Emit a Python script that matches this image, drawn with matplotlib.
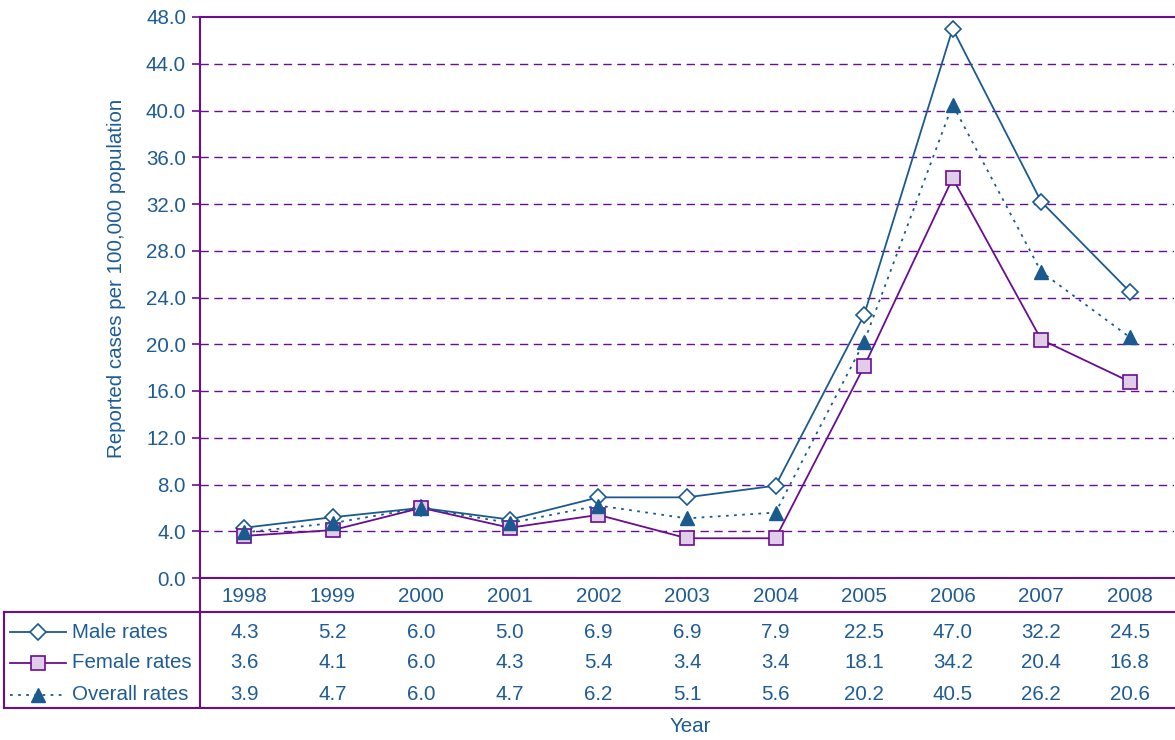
import matplotlib
matplotlib.use("Agg")
import matplotlib.pyplot as plt
from matplotlib.transforms import blended_transform_factory
import numpy as np

years = ["1998", "1999", "2000", "2001", "2002", "2003", "2004", "2005", "2006", "2007", "2008"]
male = [4.3, 5.2, 6.0, 5.0, 6.9, 6.9, 7.9, 22.5, 47.0, 32.2, 24.5]
female = [3.6, 4.1, 6.0, 4.3, 5.4, 3.4, 3.4, 18.1, 34.2, 20.4, 16.8]
overall = [3.9, 4.7, 6.0, 4.7, 6.2, 5.1, 5.6, 20.2, 40.5, 26.2, 20.6]
series_names = ["Male rates", "Female rates", "Overall rates"]

blue = "#1b5a8f"
purple = "#6a0d91"
lavender = "#e2cde8"
text_col = "#1f5c94"
fs = 14.8

plt.rcParams["font.family"] = ["Liberation Sans", "DejaVu Sans"]
plt.rcParams["font.size"] = fs

W, H = 1175, 740
fig = plt.figure(figsize=(W / 100, H / 100), dpi=100)
ax = fig.add_axes([200 / W, 1 - 578 / H, 974 / W, (578 - 17) / H])

x = np.arange(len(years))
styles = [
    dict(color=blue, ls="-", marker="D", ms=8, mfc="white", mec=blue, mew=1.2),
    dict(color=purple, ls="-", marker="s", ms=9.5, mfc=lavender, mec=purple, mew=1.2),
    dict(color=blue, ls=(0, (1.5, 3)), marker="^", ms=10, mfc=blue, mec=blue, mew=1),
]
for vals, st in zip([male, female, overall], styles):
    ax.plot(x, vals, lw=1.3, zorder=3, clip_on=False, **st)

ax.set_xlim(-0.5, len(years) - 0.5)
ax.set_ylim(0, 48)
ax.set_yticks(np.arange(0, 49, 4))
ax.set_yticklabels([f"{v:.1f}" for v in np.arange(0, 49, 4)], color=text_col, fontsize=fs)
ax.set_xticks([])
ax.tick_params(axis="y", colors=purple, labelcolor=text_col, length=6, width=1.2, pad=4)
for v in np.arange(4, 48, 4):
    ax.axhline(v, color=purple, lw=1, ls=(0, (6, 4)), zorder=1)
for s in ["left", "top", "bottom"]:
    ax.spines[s].set_color(purple)
    ax.spines[s].set_linewidth(1.5)
ax.spines["right"].set_visible(False)

# data table below the axes
tr = blended_transform_factory(ax.transData, fig.transFigure)
fy = lambda py: 1 - py / H
for i, yr in enumerate(years):
    ax.text(i, fy(597), yr, transform=tr, ha="center", va="center", color=text_col, fontsize=fs)
row_y = [632, 663, 695]
for r, vals in enumerate([male, female, overall]):
    for i, v in enumerate(vals):
        ax.text(i, fy(row_y[r]), f"{v:.1f}", transform=tr, ha="center", va="center",
                color=text_col, fontsize=fs)
    fig.text(72 / W, fy(row_y[r]), series_names[r], ha="left", va="center",
             color=text_col, fontsize=fs)
    st = styles[r]
    fig.add_artist(plt.Line2D([10 / W, 66 / W], [fy(row_y[r])] * 2, lw=1.3,
                              color=st["color"], ls=st["ls"]))
    fig.add_artist(plt.Line2D([38 / W], [fy(row_y[r])], marker=st["marker"], ms=st["ms"],
                              mfc=st["mfc"], mec=st["mec"], mew=st["mew"], ls="none"))

for py in [612, 708]:
    fig.add_artist(plt.Line2D([4 / W, 1.0], [fy(py)] * 2, color=purple, lw=1.5))
fig.add_artist(plt.Line2D([4 / W, 4 / W], [fy(612), fy(708)], color=purple, lw=1.5))
fig.add_artist(plt.Line2D([200 / W, 200 / W], [fy(578), fy(708)], color=purple, lw=1.5))

fig.text(690 / W, fy(727), "Year", ha="center", va="center", color=text_col, fontsize=fs)
fig.text(117 / W, fy(278), "Reported cases per 100,000 population", rotation=90,
         ha="center", va="center", color=text_col, fontsize=fs)

fig.savefig("out.png", dpi=100)
